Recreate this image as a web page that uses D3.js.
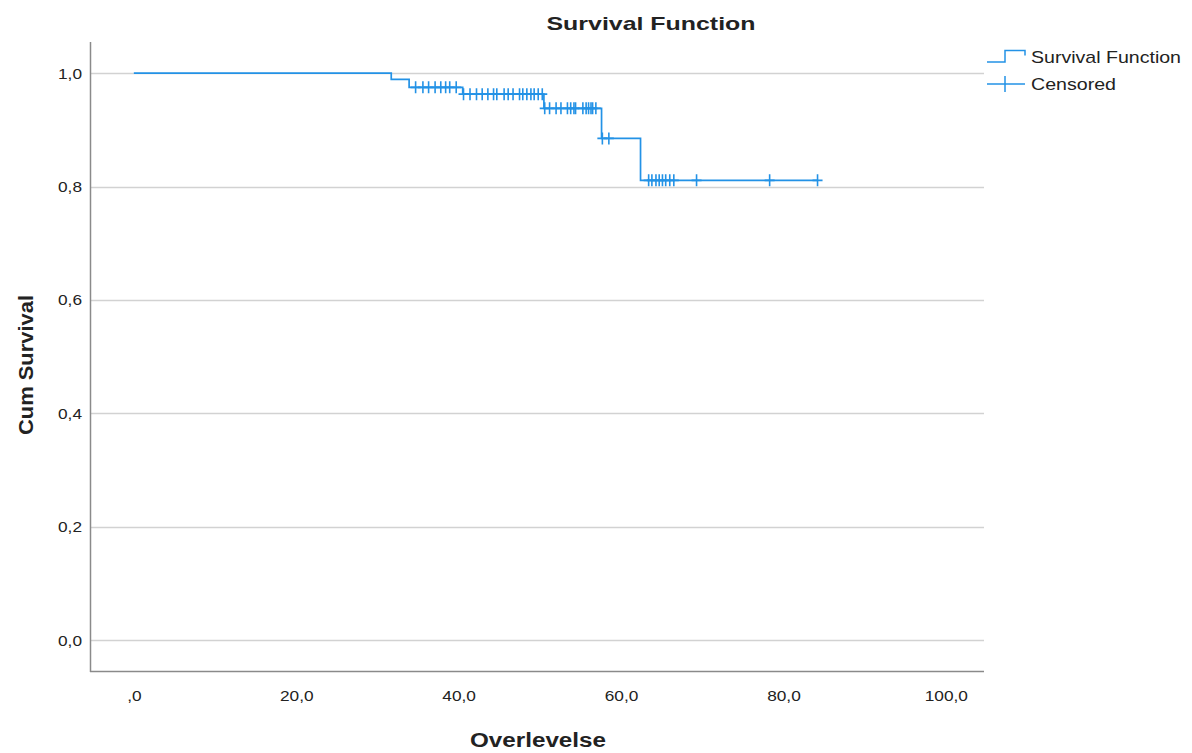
<!DOCTYPE html>
<html>
<head>
<meta charset="utf-8">
<script src="https://cdn.jsdelivr.net/npm/d3@7"></script>
<style>
	body { margin: 0; background: #fff; }
	text { font-family: "Liberation Sans", Arial, sans-serif; fill: #222; }
</style>
</head>
<body>
<script>
// survival steps (time of event, survival after it)
var eventTimes = [0, 31.7, 33.9, 40.5, 50.5, 57.6, 62.4];
var survival = [1.0, 0.989, 0.975, 0.963, 0.938, 0.885, 0.811];
var lastTime = 84.2;

// censored cases
var censorTimes = [34.7, 35.6, 36.3, 37.1, 37.8, 38.4, 38.9, 39.7,
	40.6, 41.4, 42.2, 42.9, 43.6, 44.3, 44.7, 45.6, 46.1, 46.7, 47.5, 47.9, 48.4, 48.9, 49.3, 49.8, 50.3,
	50.6, 51.2, 52.0, 52.6, 53.4, 53.8, 54.2, 54.4, 55.3, 55.7, 56.0, 56.3, 56.5, 56.9,
	57.7, 58.5,
	63.4, 63.8, 64.3, 64.7, 65.1, 65.5, 66.0, 66.5, 69.3, 78.3, 84.2];

var xTicks = [0, 20, 40, 60, 80, 100];
var yTicks = [0, 0.2, 0.4, 0.6, 0.8, 1.0];

var blue = "#2392e6";

var svg = d3.select("body").append("svg")
			.attr("width", 1192)
			.attr("height", 753);

var x = d3.scaleLinear().domain([-5.4, 104.7]).range([90, 984]);
var y = d3.scaleLinear().domain([-0.056, 1.055]).range([672, 42]);

function comma(d){
	var s = d3.format(".1f")(d).replace(".", ",");
	return s;
}

// stretch text a bit wider, like the original rendering
function stretch(sel, f){
	sel.each(function(){
		var len = this.getComputedTextLength();
		d3.select(this).attr("textLength", len * f).attr("lengthAdjust", "spacingAndGlyphs");
	});
}

// gridlines
svg.append("g").selectAll("line")
	.data(yTicks)
	.enter().append("line")
	.attr("x1", 90)
	.attr("x2", 984)
	.attr("y1", function(d){ return Math.round(y(d)) + 0.5; })
	.attr("y2", function(d){ return Math.round(y(d)) + 0.5; })
	.attr("stroke", "#d2d2d2")
	.attr("stroke-width", 1.5);

// axes
var xAxis = svg.append("g")
	.attr("transform", "translate(0,672)")
	.call(d3.axisBottom(x).tickValues(xTicks).tickSize(0).tickPadding(18)
		.tickFormat(function(d){ return d === 0 ? ",0" : comma(d); }));
xAxis.select(".domain").remove();
xAxis.selectAll("text").attr("font-size", 15).attr("fill", "#222").style("font-family", "Liberation Sans, Arial, sans-serif");

var yAxis = svg.append("g")
	.attr("transform", "translate(90,0)")
	.call(d3.axisLeft(y).tickValues(yTicks).tickSize(0).tickPadding(8).tickFormat(comma));
yAxis.select(".domain").remove();
yAxis.selectAll("text").attr("font-size", 15).attr("fill", "#222").style("font-family", "Liberation Sans, Arial, sans-serif");

stretch(xAxis.selectAll("text"), 1.15);
stretch(yAxis.selectAll("text"), 1.15);

svg.append("line")
	.attr("x1", 90.5).attr("x2", 90.5)
	.attr("y1", 42).attr("y2", 672)
	.attr("stroke", "#8a8a8a")
	.attr("stroke-width", 1.5);
svg.append("line")
	.attr("x1", 90).attr("x2", 984)
	.attr("y1", 671.5).attr("y2", 671.5)
	.attr("stroke", "#8a8a8a")
	.attr("stroke-width", 1.5);

// survival curve
var pts = eventTimes.map(function(t, i){ return [t, survival[i]]; });
pts.push([lastTime, survival[survival.length - 1]]);

var line = d3.line()
	.x(function(d){ return x(d[0]); })
	.y(function(d){ return y(d[1]); })
	.curve(d3.curveStepAfter);

svg.append("path")
	.datum(pts)
	.attr("d", line)
	.attr("fill", "none")
	.attr("stroke", blue)
	.attr("stroke-width", 1.7);

function survAt(t){
	var s = survival[0];
	for(var i = 0; i < eventTimes.length; i++){
		if(eventTimes[i] <= t) s = survival[i];
	}
	return s;
}

// censored marks
var marks = svg.append("g").selectAll("path")
	.data(censorTimes)
	.enter().append("path")
	.attr("d", function(t){
		var cx = x(t), cy = y(survAt(t));
		return "M" + (cx - 5) + "," + cy + "H" + (cx + 5) + "M" + cx + "," + (cy - 6) + "V" + (cy + 6);
	})
	.attr("fill", "none")
	.attr("stroke", blue)
	.attr("stroke-width", 1.6);

// titles
var title = svg.append("text")
	.attr("x", 651)
	.attr("y", 30)
	.attr("text-anchor", "middle")
	.attr("font-size", 19)
	.attr("font-weight", "bold")
	.text("Survival Function");
title.attr("textLength", 209).attr("lengthAdjust", "spacingAndGlyphs");

svg.append("text")
	.attr("x", 538)
	.attr("y", 747)
	.attr("text-anchor", "middle")
	.attr("font-size", 20)
	.attr("font-weight", "bold")
	.attr("textLength", 136)
	.attr("lengthAdjust", "spacingAndGlyphs")
	.text("Overlevelse");

svg.append("text")
	.attr("transform", "translate(33,365) rotate(-90)")
	.attr("text-anchor", "middle")
	.attr("font-size", 20)
	.attr("font-weight", "bold")
	.attr("textLength", 140)
	.attr("lengthAdjust", "spacingAndGlyphs")
	.text("Cum Survival");

// legend
svg.append("path")
	.attr("d", "M987,62H1005V50.5H1025V55.5")
	.attr("fill", "none")
	.attr("stroke", blue)
	.attr("stroke-width", 1.5);
svg.append("path")
	.attr("d", "M987,84H1025M1005,76V92")
	.attr("fill", "none")
	.attr("stroke", blue)
	.attr("stroke-width", 1.5);

svg.append("text")
	.attr("x", 1031)
	.attr("y", 63)
	.attr("font-size", 17)
	.attr("textLength", 150)
	.attr("lengthAdjust", "spacingAndGlyphs")
	.text("Survival Function");
svg.append("text")
	.attr("x", 1031)
	.attr("y", 90)
	.attr("font-size", 17)
	.attr("textLength", 85)
	.attr("lengthAdjust", "spacingAndGlyphs")
	.text("Censored");
</script>
</body>
</html>
